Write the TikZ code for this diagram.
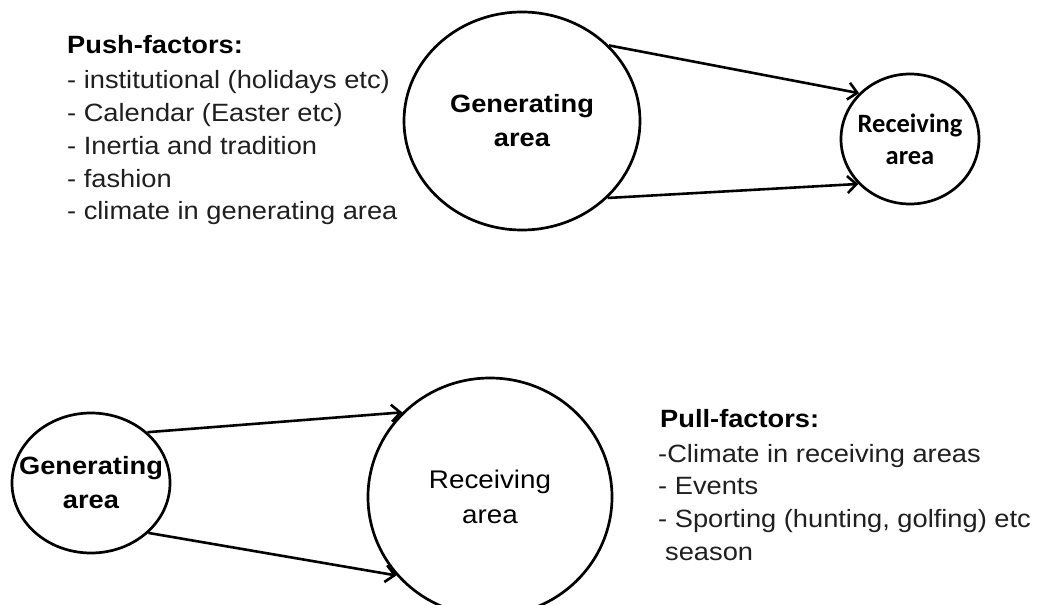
\documentclass[tikz,border=0pt]{standalone}
\usepackage{fontspec}
\setmainfont{Liberation Sans}[FakeStretch=1.09]
\newfontfamily\calfont{Carlito}
\usetikzlibrary{shapes.geometric,arrows.meta}
\begin{document}
\begin{tikzpicture}[x=1pt,y=-1pt,
  area/.style={draw, ellipse, line width=2.7pt, inner xsep=-22pt, inner ysep=0pt, align=center,
    font=\fontsize{25}{34}\selectfont\bfseries},
  flow/.style={line width=2.6pt, -{Straight Barb[length=9pt,width=17pt]}},
  listtext/.style={anchor=base west, inner sep=0pt,
    font=\fontsize{25}{33}\selectfont, text=black!88},
  listtitle/.style={listtext, font=\fontsize{25}{33}\selectfont\bfseries, text=black}]
\useasboundingbox[fill=white] (0,0) rectangle (1039,605);

% top diagram
\node[area, minimum width=236pt, minimum height=218pt] (gen1) at (522,121) {Generating\\area};
\node[area, minimum width=138pt, minimum height=130pt,
  font=\calfont\fontsize{26.5}{32}\selectfont\bfseries] (rec1) at (910,139) {Receiving\\area};
\draw[flow] (gen1.41) -- (rec1.138);
\draw[flow] (gen1.-42) -- (rec1.221);

\node[listtitle] (push0) at (67,53) {Push-factors:};
\node[listtext] (push1) at (67,88) {- institutional (holidays etc)};
\node[listtext] (push2) at (67,121) {- Calendar (Easter etc)};
\node[listtext] (push3) at (67,154) {- Inertia and tradition};
\node[listtext] (push4) at (67,187) {- fashion};
\node[listtext] (push5) at (67,219) {- climate in generating area};

% bottom diagram
\node[area, minimum width=158pt, minimum height=140pt] (gen2) at (91,483) {Generating\\area};
\node[area, minimum width=244pt, minimum height=238pt,
  font=\fontsize{25.5}{35}\selectfont] (rec2) at (490,497) {Receiving\\area};
\draw[flow] (gen2.42) -- (rec2.136);
\draw[flow] (gen2.-41) -- (rec2.220);

\node[listtitle] (pull0) at (660,427) {Pull-factors:};
\node[listtext] (pull1) at (658,462) {-Climate in receiving areas};
\node[listtext] (pull2) at (658,494) {- Events};
\node[listtext] (pull3) at (658,527) {- Sporting (hunting, golfing) etc};
\node[listtext] (pull4) at (665,560) {season};
\end{tikzpicture}
\end{document}
